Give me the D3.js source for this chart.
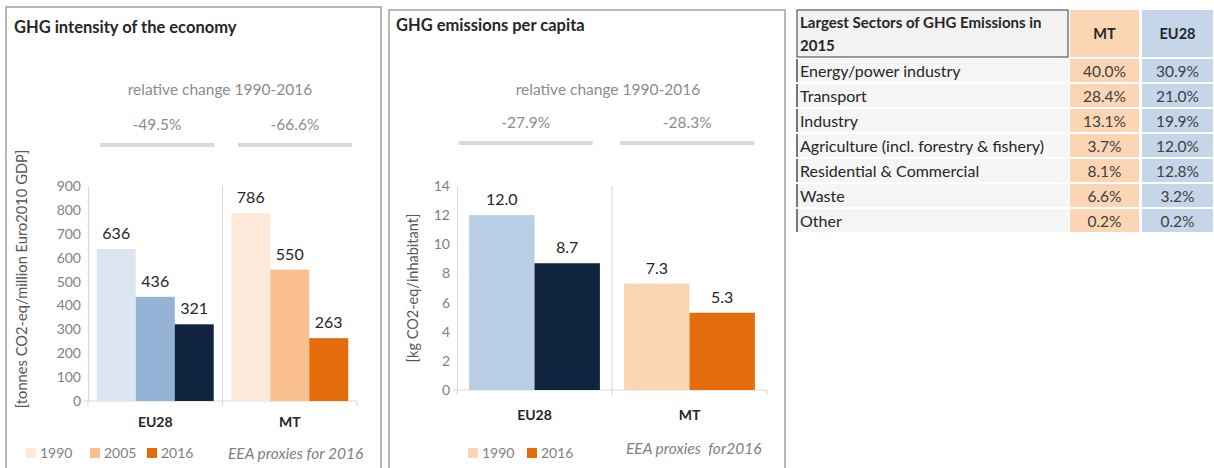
<!DOCTYPE html>
<html>
<head>
<meta charset="utf-8">
<script src="https://cdn.jsdelivr.net/npm/d3@7"></script>
<style>
  body { margin: 0; background: #fff; }
  text { font-family: Lato, 'Open Sans', sans-serif; white-space: pre; }
</style>
</head>
<body>
<svg id="chart" width="1214" height="468"></svg>
<script>
// ---- data ----
const categories = ['EU28', 'MT'];

// GHG intensity of the economy [tonnes CO2-eq / million Euro2010 GDP]
const intensityYears = ['1990', '2005', '2016'];
const intensityEU28 = [636, 436, 321];
const intensityMT = [786, 550, 263];
const intensityChange = ['-49.5%', '-66.6%'];
const intensityTicks = [0, 100, 200, 300, 400, 500, 600, 700, 800, 900];

// GHG emissions per capita [kg CO2-eq / inhabitant]
const capitaYears = ['1990', '2016'];
const capitaEU28 = [12.0, 8.7];
const capitaMT = [7.3, 5.3];
const capitaChange = ['-27.9%', '-28.3%'];
const capitaTicks = [0, 2, 4, 6, 8, 10, 12, 14];

// Largest sectors of GHG emissions in 2015
const sectors = ['Energy/power industry', 'Transport', 'Industry',
  'Agriculture (incl. forestry & fishery)', 'Residential & Commercial', 'Waste', 'Other'];
const sectorMT = ['40.0%', '28.4%', '13.1%', '3.7%', '8.1%', '6.6%', '0.2%'];
const sectorEU28 = ['30.9%', '21.0%', '19.9%', '12.0%', '12.8%', '3.2%', '0.2%'];

// ---- styles ----
const palette = {
  intensity: { EU28: ['#dce6f2', '#95b3d7', '#10243f'], MT: ['#fde9d9', '#fac090', '#e46c0a'] },
  capita: { EU28: ['#b9cde5', '#10243f'], MT: ['#fcd5b5', '#e46c0a'] }
};
const dark = '#262626';
const axisGrey = '#d9d9d9';
const tickGrey = '#7f7f7f';

const svg = d3.select('#chart');

// panel frames
function frame(x0, y0, x1) {
  svg.append('rect')
    .attr('x', x0).attr('y', y0)
    .attr('width', x1 - x0).attr('height', 480 - y0)
    .attr('fill', 'none')
    .attr('stroke', '#a6a6a6')
    .attr('stroke-width', 1.6);
}
frame(6, 7, 381);
frame(389, 10, 785);

function drawPanel(cfg) {
  const g = svg.append('g');

  g.append('text')
    .attr('x', cfg.titleX).attr('y', cfg.titleY)
    .attr('font-size', 16.5).attr('font-weight', 700).attr('fill', dark)
    .text(cfg.title);

  // relative change header
  const ann = d3.scaleBand().domain(categories).range(cfg.annRange);
  g.append('text')
    .attr('x', cfg.annTitleX).attr('y', 95)
    .attr('text-anchor', 'middle').attr('font-size', 15.5).attr('fill', '#8c8c8c')
    .text('relative change 1990-2016');
  categories.forEach((c, i) => {
    const cx = ann(c) + ann.bandwidth() / 2;
    g.append('text')
      .attr('x', cx).attr('y', cfg.changeY)
      .attr('text-anchor', 'middle').attr('font-size', 15.5).attr('fill', '#8c8c8c')
      .text(cfg.change[i]);
    g.append('line')
      .attr('x1', cx - cfg.annHalf).attr('x2', cx + cfg.annHalf)
      .attr('y1', cfg.lineY).attr('y2', cfg.lineY)
      .attr('stroke', axisGrey).attr('stroke-width', 4);
  });

  const x = d3.scaleBand().domain(categories).range(cfg.xRange);
  const inner = d3.scaleBand().domain(cfg.years).range([0, x.bandwidth()]).paddingOuter(cfg.pad);
  const y = d3.scaleLinear().domain(cfg.yDomain).range(cfg.yRange);

  // y axis
  const ya = g.append('g')
    .attr('transform', `translate(${cfg.xRange[0]},0)`)
    .call(d3.axisLeft(y).tickValues(cfg.ticks).tickSize(0).tickPadding(7).tickFormat(d3.format('d')));
  ya.select('.domain').attr('stroke', axisGrey).attr('stroke-width', 1.2);
  ya.selectAll('text').attr('fill', tickGrey).attr('font-size', 14).attr('font-family', 'Lato, sans-serif');

  // x axis line, category separators and ticks
  const y0 = y(0);
  g.append('line')
    .attr('x1', cfg.xRange[0] - 4).attr('x2', cfg.xRange[1])
    .attr('y1', y0).attr('y2', y0)
    .attr('stroke', axisGrey).attr('stroke-width', 1.2);
  const bounds = [cfg.xRange[0], x(categories[1]), cfg.xRange[1]];
  g.selectAll('.xtick').data(bounds).join('line')
    .attr('x1', d => d).attr('x2', d => d)
    .attr('y1', y0).attr('y2', y0 + 5)
    .attr('stroke', axisGrey).attr('stroke-width', 1.2);
  g.append('line')
    .attr('x1', x(categories[1])).attr('x2', x(categories[1]))
    .attr('y1', cfg.yRange[1]).attr('y2', y0)
    .attr('stroke', axisGrey).attr('stroke-width', 1.2);

  // bars
  const rows = [];
  categories.forEach((c, i) => {
    cfg.series[i].forEach((v, j) => {
      rows.push({ cat: c, year: cfg.years[j], value: v, color: cfg.colors[c][j] });
    });
  });
  g.selectAll('.bar').data(rows).join('rect')
    .attr('x', d => x(d.cat) + inner(d.year))
    .attr('y', d => y(d.value))
    .attr('width', inner.bandwidth())
    .attr('height', d => y0 - y(d.value))
    .attr('fill', d => d.color);
  g.selectAll('.val').data(rows).join('text')
    .attr('x', d => x(d.cat) + inner(d.year) + inner.bandwidth() / 2)
    .attr('y', d => y(d.value) - 10)
    .attr('text-anchor', 'middle').attr('font-size', 16).attr('fill', dark)
    .text(d => cfg.fmt(d.value));

  // category labels
  g.selectAll('.cat').data(categories).join('text')
    .attr('x', d => x(d) + x.bandwidth() / 2)
    .attr('y', cfg.catY)
    .attr('text-anchor', 'middle').attr('font-size', 14).attr('font-weight', 700).attr('fill', dark)
    .text(d => d);

  // y title
  g.append('text')
    .attr('transform', `translate(${cfg.yTitleX},${cfg.yTitleY}) rotate(-90)`)
    .attr('text-anchor', 'middle').attr('font-size', cfg.yTitleSize).attr('fill', '#595959')
    .text(cfg.yTitle);

  // legend (MT colours)
  const lg = g.selectAll('.lg').data(cfg.years).join('g')
    .attr('transform', (d, i) => `translate(${cfg.legendX[i]},448)`);
  lg.append('rect').attr('width', 10).attr('height', 10)
    .attr('fill', (d, i) => cfg.colors.MT[i]);
  lg.append('text').attr('x', 14).attr('y', 10)
    .attr('font-size', 14).attr('fill', '#7f7f7f').text(d => d);

  g.append('text')
    .attr('x', cfg.noteX).attr('y', cfg.noteY)
    .attr('font-size', cfg.noteSize).attr('font-style', 'italic').attr('fill', '#7f7f7f')
    .text(cfg.note);
}

drawPanel({
  title: 'GHG intensity of the economy', titleX: 14, titleY: 33,
  annRange: [88, 364], annHalf: 57, changeY: 130, lineY: 145, annTitleX: 220,
  change: intensityChange,
  xRange: [88, 357], yDomain: [0, 900], yRange: [401, 186], ticks: intensityTicks,
  years: intensityYears, series: [intensityEU28, intensityMT], pad: 0.225,
  colors: palette.intensity, fmt: d3.format('d'),
  catY: 427,
  yTitle: '[tonnes CO2-eq/million Euro2010 GDP]', yTitleX: 27, yTitleY: 279, yTitleSize: 14.7,
  legendX: [26, 90, 147], note: 'EEA proxies for 2016', noteX: 228, noteY: 459, noteSize: 15.5
});

drawPanel({
  title: 'GHG emissions per capita', titleX: 396, titleY: 31,
  annRange: [445, 768], annHalf: 67, changeY: 128, lineY: 143, annTitleX: 608,
  change: capitaChange,
  xRange: [457, 767], yDomain: [0, 14], yRange: [390, 186], ticks: capitaTicks,
  years: capitaYears, series: [capitaEU28, capitaMT], pad: 0.185,
  colors: palette.capita, fmt: d3.format('.1f'),
  catY: 420,
  yTitle: '[kg CO2-eq/inhabitant]', yTitleX: 418, yTitleY: 288, yTitleSize: 14.5,
  legendX: [468, 527], note: 'EEA proxies  for2016', noteX: 626, noteY: 454, noteSize: 15.5
});

// ---- table ----
const tbl = svg.append('g');
const colX = [797, 1070, 1142];
const colW = [271, 69, 71];
const headTop = 10, headH = 47, rowTop = 59, rowStep = 25, rowH = 23;

tbl.append('rect').attr('x', colX[0]).attr('y', headTop).attr('width', colW[0]).attr('height', headH)
  .attr('fill', '#f2f2f2').attr('stroke', '#595959').attr('stroke-width', 1.2);
tbl.append('rect').attr('x', colX[1]).attr('y', headTop).attr('width', colW[1]).attr('height', headH)
  .attr('fill', '#fcd5b5');
tbl.append('rect').attr('x', colX[2]).attr('y', headTop).attr('width', colW[2]).attr('height', headH)
  .attr('fill', '#c5d5ea');
tbl.append('text').attr('x', 800).attr('y', 28).attr('font-size', 15).attr('font-weight', 700).attr('fill', dark)
  .text('Largest Sectors of GHG Emissions in');
tbl.append('text').attr('x', 800).attr('y', 51).attr('font-size', 15).attr('font-weight', 700).attr('fill', dark)
  .text('2015');
tbl.selectAll('.hd').data(['MT', 'EU28']).join('text')
  .attr('x', (d, i) => colX[i + 1] + colW[i + 1] / 2).attr('y', 39)
  .attr('text-anchor', 'middle').attr('font-size', 14.5).attr('font-weight', 700).attr('fill', dark)
  .text(d => d);

const row = tbl.selectAll('.row').data(sectors).join('g')
  .attr('transform', (d, i) => `translate(0,${rowTop + i * rowStep})`);
row.append('rect').attr('x', colX[0]).attr('width', colW[0]).attr('height', rowH).attr('fill', '#f5f5f5');
row.append('line').attr('x1', colX[0]).attr('x2', colX[0]).attr('y1', 0).attr('y2', rowH)
  .attr('stroke', '#404040').attr('stroke-width', 1.4);
row.append('rect').attr('x', colX[1]).attr('width', colW[1]).attr('height', rowH).attr('fill', '#fcd5b5');
row.append('rect').attr('x', colX[2]).attr('width', colW[2]).attr('height', rowH).attr('fill', '#c5d5ea');
row.append('text').attr('x', 800).attr('y', 18).attr('font-size', 16).attr('fill', dark).text(d => d);
row.append('text').attr('x', colX[1] + colW[1] / 2).attr('y', 18).attr('text-anchor', 'middle')
  .attr('font-size', 15.5).attr('fill', '#404040').text((d, i) => sectorMT[i]);
row.append('text').attr('x', colX[2] + colW[2] / 2).attr('y', 18).attr('text-anchor', 'middle')
  .attr('font-size', 15.5).attr('fill', '#404040').text((d, i) => sectorEU28[i]);
</script>
</body>
</html>
